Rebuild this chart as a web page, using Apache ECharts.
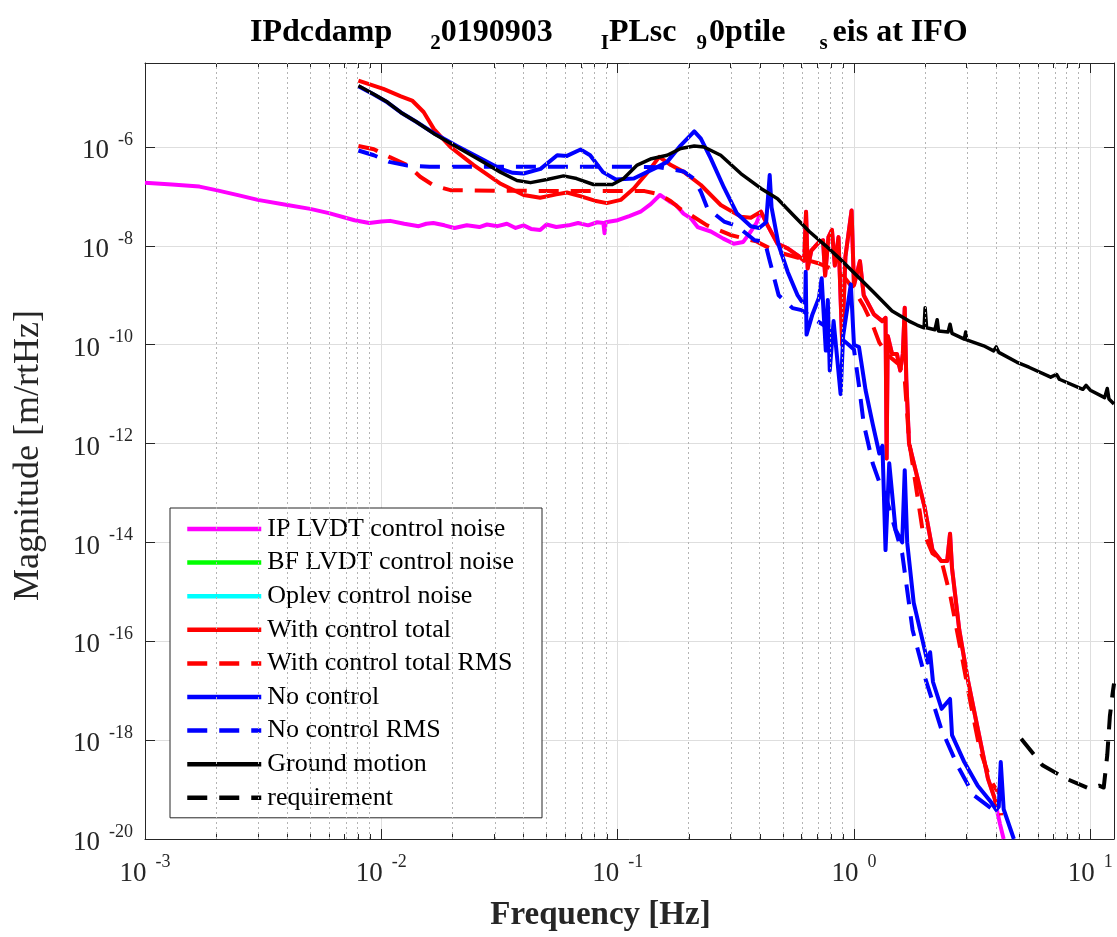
<!DOCTYPE html>
<html>
<head>
<meta charset="utf-8">
<script src="https://cdn.jsdelivr.net/npm/echarts@6/dist/echarts.min.js"></script>
<style>
html,body{margin:0;padding:0;background:#fff;}
#chart{width:1117px;height:937px;}
</style>
</head>
<body>
<div id="chart"></div>
<script>
// ---- data: [frequency Hz, magnitude m/rtHz] ----
const ipLvdtNoise = [
  [0.001,1.9e-7],[0.0013,1.75e-7],[0.0017,1.58e-7],[0.002,1.34e-7],[0.0025,1.05e-7],
  [0.003,8.5e-8],[0.004,6.7e-8],[0.005,5.6e-8],[0.006,4.6e-8],[0.0077,3.3e-8],
  [0.0089,2.9e-8],[0.010,3.1e-8],[0.0109,3.2e-8],[0.0125,2.8e-8],[0.0144,2.5e-8],
  [0.0155,2.8e-8],[0.0166,2.9e-8],[0.0185,2.6e-8],[0.0204,2.3e-8],[0.023,2.6e-8],
  [0.026,2.4e-8],[0.028,2.7e-8],[0.031,2.5e-8],[0.034,2.8e-8],[0.037,2.3e-8],
  [0.040,2.6e-8],[0.043,2.2e-8],[0.047,2.1e-8],[0.050,2.7e-8],[0.055,2.4e-8],
  [0.062,2.6e-8],[0.068,2.9e-8],[0.075,2.6e-8],[0.082,3.0e-8],[0.087,2.9e-8],
  [0.088,1.8e-8],[0.089,3.0e-8],[0.100,3.3e-8],[0.112,4.0e-8],[0.125,4.9e-8],
  [0.138,7.0e-8],[0.151,1.07e-7],[0.165,8.0e-8],[0.177,6.6e-8],[0.190,4.5e-8],
  [0.204,3.6e-8],[0.218,2.4e-8],[0.248,1.95e-8],[0.280,1.4e-8],[0.310,1.1e-8],
  [0.340,1.2e-8],[0.366,1.95e-8],[0.387,2.9e-8]
];
const ipLvdtNoiseTail = [[4.15,2.0e-20],[4.3,1.0e-20]];
const bfLvdtNoise = [];
const oplevNoise = [];
const withControlTotal = [
  [0.008,2.2e-5],[0.0102,1.5e-5],[0.0121,1.06e-5],[0.0135,8.7e-6],[0.0151,5.1e-6],
  [0.0167,2.3e-6],[0.0196,1.0e-6],[0.0246,4.3e-7],[0.032,1.8e-7],[0.040,1.07e-7],
  [0.047,9.4e-8],[0.055,1.1e-7],[0.061,1.2e-7],[0.070,1.0e-7],[0.080,8.2e-8],
  [0.090,7.3e-8],[0.103,8.5e-8],[0.117,1.45e-7],[0.134,3.1e-7],[0.150,6.3e-7],
  [0.168,4.3e-7],[0.191,3.1e-7],[0.225,1.7e-7],[0.273,6.7e-8],[0.332,3.9e-8],
  [0.366,3.7e-8],[0.404,4.9e-8],[0.431,2.6e-8],[0.475,1.1e-8],[0.524,8.9e-9],
  [0.586,6.1e-9],[0.615,5.0e-9],[0.627,4.9e-8],[0.637,3.5e-9],[0.66,8e-9],
  [0.713,1.2e-8],[0.74,1.3e-8],[0.755,2.5e-9],[0.78,1.5e-8],[0.807,2.1e-8],
  [0.83,4e-9],[0.86,1.5e-8],[0.892,1e-10],[0.92,6e-9],[0.977,5.2e-8],
  [1.0,1.6e-9],[1.06,4.9e-9],[1.10,1e-9],[1.215,4.1e-10],[1.318,3.0e-10],
  [1.36,3.5e-10],[1.375,5e-13],[1.39,1.5e-10],[1.45,6.5e-11],[1.52,6.5e-11],
  [1.57,3e-11],[1.61,6.5e-11],[1.64,5.6e-10],[1.665,2e-11],[1.71,1e-12],
  [1.99,5.2e-14],[2.15,7e-15],[2.34,4.2e-15],[2.48,4.2e-15],[2.55,1.5e-14],
  [2.60,3e-15],[2.79,1.7e-16],[3.03,1.7e-17],[3.34,1.7e-18],[3.69,1.66e-19],
  [3.94,6.6e-20],[4.0,4.5e-20]
];
const withControlRms = [
  [0.008,1.05e-6],[0.0093,9e-7],[0.0108,6.3e-7],[0.0129,4.3e-7],[0.0146,2.5e-7],
  [0.0167,1.65e-7],[0.0196,1.34e-7],[0.030,1.3e-7],[0.060,1.29e-7],[0.130,1.28e-7],
  [0.150,1.1e-7],[0.168,8e-8],[0.185,5.5e-8],[0.204,4.2e-8],[0.239,2.6e-8],
  [0.30,1.66e-8],[0.387,1.23e-8],[0.44,8.9e-9],[0.5,7e-9],[0.6,5.5e-9],
  [0.7,4.5e-9],[0.8,3.5e-9],[0.9,2.5e-9],[1.0,1.3e-9],[1.1,6e-10],
  [1.2,2.5e-10],[1.28,1.1e-10],[1.4,6e-11],[1.55,4e-11],[1.64,2e-11],
  [1.71,1.15e-12],[1.95,1.8e-14],[2.15,6e-15],[2.34,4.5e-15],[2.56,8.1e-16],
  [2.86,5e-17],[3.13,5e-18],[3.4,6.8e-19],[3.76,1.66e-19],[4.0,1e-19],
  [4.15,8e-20],[4.2,3e-20]
];
const noControl = [
  [0.008,1.7e-5],[0.0093,1.15e-5],[0.0106,8e-6],[0.0121,5e-6],[0.0141,3.2e-6],
  [0.0167,1.9e-6],[0.0209,1.05e-6],[0.0265,5.8e-7],[0.032,3.6e-7],[0.036,3.0e-7],
  [0.040,2.9e-7],[0.0472,3.6e-7],[0.0555,6.8e-7],[0.061,6.6e-7],[0.0697,8.9e-7],
  [0.0765,6.8e-7],[0.0867,3.1e-7],[0.0983,2.2e-7],[0.117,2.3e-7],[0.142,3.6e-7],
  [0.162,5e-7],[0.185,1.08e-6],[0.211,2.06e-6],[0.225,1.47e-6],[0.248,5.8e-7],
  [0.282,1.5e-7],[0.32,4.5e-8],[0.366,2.5e-8],[0.397,2.3e-8],[0.425,3.0e-8],
  [0.44,2.7e-7],[0.448,6e-8],[0.48,1.04e-8],[0.524,3e-9],[0.576,1.02e-9],
  [0.6,7.6e-10],[0.622,7e-10],[0.625,3e-9],[0.63,1.6e-10],[0.667,4.1e-10],
  [0.711,8.9e-10],[0.73,2.2e-9],[0.76,7.6e-11],[0.775,8e-10],[0.79,3e-11],
  [0.82,3e-10],[0.878,1e-11],[0.90,1.5e-10],[0.97,1.66e-9],[1.0,1e-10],
  [1.05,9e-11],[1.12,1.2e-11],[1.2,2.5e-12],[1.28,6.3e-13],[1.32,9e-13],
  [1.36,7e-15],[1.41,4e-13],[1.50,1.8e-14],[1.60,1e-14],[1.64,2.9e-13],
  [1.68,1e-14],[1.79,6e-16],[1.93,1.3e-16],[2.05,3.7e-17],[2.10,6e-17],
  [2.16,1.5e-17],[2.35,4.3e-18],[2.55,6.8e-18],[2.60,1.26e-18],[2.93,3.6e-19],
  [3.34,1.2e-19],[3.8,5.6e-20],[4.0,3.9e-20],[4.1,4.5e-20],[4.18,3.6e-19],
  [4.3,4e-20],[4.75,1e-20]
];
const noControlRms = [
  [0.008,8.5e-7],[0.0093,6.8e-7],[0.0108,5e-7],[0.0129,4.2e-7],[0.016,4.0e-7],
  [0.05,4.0e-7],[0.098,4.0e-7],[0.15,3.9e-7],[0.19,3.2e-7],[0.21,2.3e-7],
  [0.225,1.24e-7],[0.24,5.7e-8],[0.282,3.1e-8],[0.32,2.5e-8],[0.38,1.3e-8],
  [0.42,1.2e-8],[0.44,5e-9],[0.48,1e-9],[0.55,5.5e-10],[0.6,5e-10],
  [0.7,3e-10],[0.8,2e-10],[0.95,1e-10],[1.0,8e-11],[1.05,1.5e-11],
  [1.1,2.5e-12],[1.2,4e-13],[1.29,1.5e-13],[1.35,1e-13],[1.6,6e-15],
  [1.77,1.7e-16],[2.01,1.7e-17],[2.34,1.7e-18],[2.74,3.1e-19],[3.2,7.8e-20],
  [3.8,4.2e-20]
];
const groundMotion = [
  [0.008,1.74e-5],[0.0093,1.17e-5],[0.0106,8.1e-6],[0.0121,5e-6],[0.0141,3.2e-6],
  [0.0167,1.86e-6],[0.0209,1e-6],[0.0262,5.4e-7],[0.0319,3.1e-7],[0.0375,2.1e-7],
  [0.0428,1.9e-7],[0.0502,2.2e-7],[0.059,2.6e-7],[0.067,2.3e-7],[0.079,1.74e-7],
  [0.095,1.74e-7],[0.106,2.3e-7],[0.121,4.3e-7],[0.139,5.8e-7],[0.162,6.8e-7],
  [0.185,9.3e-7],[0.211,1.05e-6],[0.232,1e-6],[0.273,6.8e-7],[0.332,2.9e-7],
  [0.404,1.45e-7],[0.475,9e-8],[0.553,4.2e-8],[0.647,1.95e-8],[0.76,1e-8],
  [0.893,4.9e-9],[1.02,2.6e-9],[1.20,1.2e-9],[1.45,4.8e-10],[1.71,3e-10],
  [1.85,2.5e-10],[1.98,2.2e-10],[2.0,5.6e-10],[2.03,2.2e-10],[2.2,2.0e-10],
  [2.25,3.2e-10],[2.28,1.9e-10],[2.5,1.8e-10],[2.55,2.6e-10],[2.6,1.7e-10],
  [2.93,1.3e-10],[2.97,1.8e-10],[3.0,1.25e-10],[3.54,9.5e-11],[3.9,7.5e-11],
  [4.0,9e-11],[4.1,7e-11],[4.9,4.4e-11],[5.5,3.5e-11],[6.8,2.2e-11],
  [7.2,2.5e-11],[7.4,2.0e-11],[9.3,1.25e-11],[9.6,1.5e-11],[10.0,1.2e-11],
  [11.5,8.5e-12],[11.8,1.3e-11],[12.0,8e-12],[12.6,6.3e-12]
];
const requirement = [
  [5.1,1.07e-18],[6.28,3.1e-19],[7.9,1.66e-19],[9.9,1.05e-19],[10.9,1.2e-19],
  [11.4,1.1e-19],[11.8,5e-19],[12.1,3e-18],[12.4,8e-18],[12.6,1.4e-17]
];
const seriesNames = ['IP LVDT control noise','BF LVDT control noise','Oplev control noise',
  'With control total','With control total RMS','No control','No control RMS',
  'Ground motion','requirement'];
const titleParts = ['IPdcdamp','2','0190903','I','PLsc','9','0ptile','s','eis at IFO'];
const freqMin = 0.001, freqMax = 12.6, magMin = 1e-20, magMax = 5e-5;

// ---- build ----
const L = Math.log10;
const toLog = arr => arr.map(p => [L(p[0]), L(p[1])]);
const ipFull = ipLvdtNoise.concat(withControlTotal.filter(p => p[0] >= 0.404), ipLvdtNoiseTail);

const XMIN = L(freqMin), XMAX = L(freqMax), YMIN = L(magMin), YMAX = L(magMax);
const minorVals = [];
for (let n = -3; n <= 1; n++) {
  for (let k = 2; k <= 9; k++) {
    const v = L(k) + n;
    if (v < XMAX) minorVals.push(v);
  }
}
const FONT = 'Liberation Serif';
const TXT = '#262626';
function powLabel(v) {
  const r = Math.round(v);
  if (Math.abs(v - r) > 1e-6) return '';
  return '{b|10}{s|' + r + '}';
}
const labelRich = {
  b: {fontFamily: FONT, fontSize: 27, color: TXT, padding: [8, 0, 0, 0]},
  s: {fontFamily: FONT, fontSize: 18, color: TXT, padding: [0, 0, 14, 9]}
};
const DASH = [20, 12];
function mk(name, data, color, width, dashed) {
  return {
    name: name, type: 'line', data: toLog(data), showSymbol: false, symbol: 'none',
    xAxisIndex: 0, yAxisIndex: 0, clip: true, z: 3,
    itemStyle: {color: color},
    lineStyle: {color: color, width: width, type: dashed ? DASH : 'solid', join: 'round', cap: 'butt'},
    emphasis: {disabled: true}
  };
}
const sub = (pl, pr) => ({fontFamily: FONT, fontSize: 21, fontWeight: 'bold', color: '#000', padding: [22, pr || 0, 0, pl]});
const option = {
  animation: false,
  backgroundColor: '#fff',
  title: {
    left: 245, top: 6,
    text: '{a|' + titleParts[0] + '}{s1|' + titleParts[1] + '}{a|' + titleParts[2] + '}{s2|' + titleParts[3] +
      '}{a|' + titleParts[4] + '}{s3|' + titleParts[5] + '}{a|' + titleParts[6] + '}{s4|' + titleParts[7] +
      '}{a|' + titleParts[8] + '}',
    textStyle: {
      rich: {
        a: {fontFamily: FONT, fontSize: 32, fontWeight: 'bold', color: '#000'},
        s1: sub(38), s2: sub(48), s3: sub(20, 2), s4: sub(34, 5)
      }
    }
  },
  grid: {left: 145, right: 3, top: 63, bottom: 92, containLabel: false},
  legend: {
    orient: 'vertical', left: 170, top: 508,
    data: seriesNames,
    backgroundColor: '#fff', borderColor: TXT, borderWidth: 1,
    padding: [7, 28, 6, 15],
    itemWidth: 74, itemHeight: 14, itemGap: 5.6,
    selectedMode: false,
    itemStyle: {opacity: 0, borderWidth: 0},
    lineStyle: {width: 4.5},
    textStyle: {fontFamily: FONT, fontSize: 26, color: '#000', lineHeight: 28, padding: [0, 0, 0, 1]}
  },
  xAxis: [
    {
      type: 'value', min: XMIN, max: XMAX, interval: 1, position: 'bottom',
      axisLine: {show: true, onZero: false, lineStyle: {color: TXT, width: 1}},
      axisTick: {show: true, inside: true, length: 10, lineStyle: {color: TXT}},
      axisLabel: {show: true, formatter: powLabel, rich: labelRich, margin: 13, showMinLabel: true, showMaxLabel: true, hideOverlap: false},
      splitLine: {show: true, lineStyle: {color: '#dedede', width: 1}},
      name: 'Frequency [Hz]', nameLocation: 'middle', nameGap: 60,
      nameTextStyle: {fontFamily: FONT, fontSize: 33, fontWeight: 'bold', color: TXT, padding: [0, 58, 0, 0]}
    },
    {
      type: 'value', min: XMIN, max: XMAX, position: 'bottom',
      axisLine: {show: false, onZero: false},
      axisTick: {show: true, inside: true, length: 5, customValues: minorVals, lineStyle: {color: TXT}},
      axisLabel: {show: false}, splitLine: {show: false}
    },
    {
      type: 'value', min: XMIN, max: XMAX, interval: 1, position: 'top',
      axisLine: {show: true, onZero: false, lineStyle: {color: TXT, width: 1}},
      axisTick: {show: true, inside: true, length: 10, lineStyle: {color: TXT}},
      axisLabel: {show: false}, splitLine: {show: false}
    },
    {
      type: 'value', min: XMIN, max: XMAX, position: 'top',
      axisLine: {show: false, onZero: false},
      axisTick: {show: true, inside: true, length: 5, customValues: minorVals, lineStyle: {color: TXT}},
      axisLabel: {show: false}, splitLine: {show: false}
    }
  ],
  yAxis: [
    {
      type: 'value', min: YMIN, max: YMAX, interval: 2, position: 'left',
      axisLine: {show: true, onZero: false, lineStyle: {color: TXT, width: 1}},
      axisTick: {show: true, inside: true, length: 10, lineStyle: {color: TXT}},
      axisLabel: {show: true, formatter: powLabel, rich: labelRich, margin: 12, showMinLabel: true, showMaxLabel: true, hideOverlap: false},
      splitLine: {show: true, lineStyle: {color: '#dedede', width: 1}},
      name: 'Magnitude [m/rtHz]', nameLocation: 'middle', nameGap: 98, nameRotate: 90,
      nameTextStyle: {fontFamily: FONT, fontSize: 36, color: TXT, padding: [0, 9, 0, 0]}
    },
    {
      type: 'value', min: YMIN, max: YMAX, interval: 2, position: 'right',
      axisLine: {show: true, onZero: false, lineStyle: {color: TXT, width: 1}},
      axisTick: {show: true, inside: true, length: 10, lineStyle: {color: TXT}},
      axisLabel: {show: false}, splitLine: {show: false}
    }
  ],
  series: [
    {
      name: 'minor-grid', type: 'line', data: [], xAxisIndex: 0, yAxisIndex: 0, z: 1, silent: true,
      markLine: {
        silent: true, symbol: ['none', 'none'], animation: false,
        label: {show: false},
        lineStyle: {color: '#b4b4b4', width: 1, type: [2, 3]},
        data: minorVals.map(v => ({xAxis: v}))
      }
    },
    mk(seriesNames[0], ipFull, '#ff00ff', 4, false),
    mk(seriesNames[1], bfLvdtNoise, '#00ff00', 4, false),
    mk(seriesNames[2], oplevNoise, '#00ffff', 4, false),
    mk(seriesNames[3], withControlTotal, '#ff0000', 4, false),
    mk(seriesNames[4], withControlRms, '#ff0000', 4, true),
    mk(seriesNames[5], noControl, '#0000ff', 4, false),
    mk(seriesNames[6], noControlRms, '#0000ff', 4, true),
    mk(seriesNames[7], groundMotion, '#000000', 3.5, false),
    mk(seriesNames[8], requirement, '#000000', 4, true)
  ]
};
const chart = echarts.init(document.getElementById('chart'), null, {renderer: 'canvas'});
chart.setOption(option);
</script>
</body>
</html>
